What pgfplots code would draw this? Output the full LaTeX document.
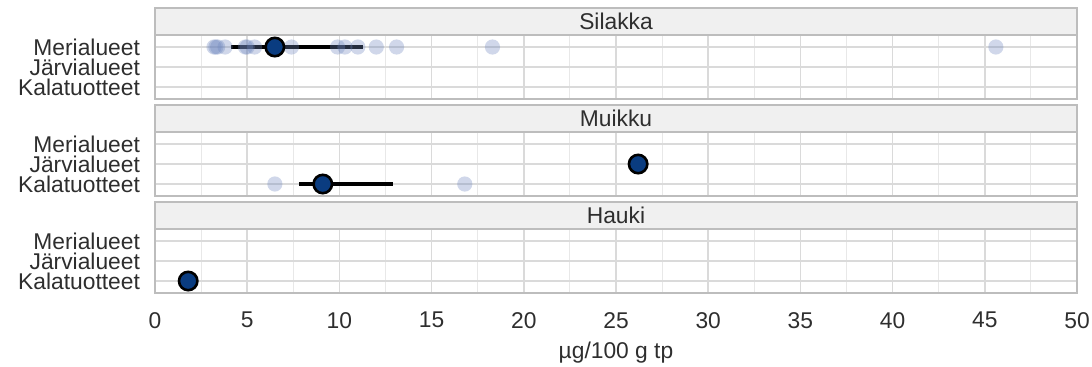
\documentclass[border=0pt]{standalone}
\usepackage{pgfplots}
\pgfplotsset{compat=1.18}
\usetikzlibrary{calc}
\usepackage{fontspec}
\setmainfont{Liberation Sans}
\definecolor{gridmaj}{HTML}{DADADA}
\definecolor{gridmin}{HTML}{E8E8E8}
\definecolor{border}{HTML}{BDBDBD}
\definecolor{stripbg}{HTML}{F0F0F0}
\definecolor{ptcol}{HTML}{6F87BE}
\definecolor{meanfill}{HTML}{0A3C80}
\definecolor{txt}{HTML}{2E2E2E}
\newcommand{\fs}{\fontsize{11.4}{13}\selectfont}
\pgfplotsset{
  panel/.style={
    scale only axis, width=461pt, height=32pt,
    xmin=0, xmax=50, ymin=0.4, ymax=3.6,
    ytick={1,2,3}, yticklabels={Kalatuotteet,Järvialueet,Merialueet},
    xtick={0,5,...,50}, minor x tick num=1,
    grid=both,
    major grid style={color=gridmaj, line width=0.75pt},
    minor grid style={color=gridmin, line width=0.5pt},
    axis line style={color=border, line width=0.75pt},
    major tick length=0pt, minor tick length=0pt,
    tick label style={font=\fs, text=txt},
    /pgf/number format/assume math mode=true,
    yticklabel style={xshift=-4pt},
    xticklabel style={yshift=-6pt},
    anchor=north west, clip=false,
  },
  light/.style={only marks, mark=*, mark size=3.8pt, color=ptcol, mark options={fill opacity=0.33, draw opacity=0}},
  ebar/.style={black, line width=1.6pt},
  mean/.style={only marks, mark=*, mark size=4.6pt, mark options={fill=meanfill, draw=black, line width=1.3pt}},
}
\begin{document}
\begin{tikzpicture}
\path[use as bounding box] (0,0) rectangle (546pt,-183pt);
% Silakka
\begin{axis}[panel, name=p1, at={(77.5pt,-17.5pt)}, xticklabels={}]
\addplot[light] coordinates {(3.2,3) (3.3,3) (3.4,3) (3.8,3) (4.9,3) (5.0,3) (5.4,3) (7.4,3) (9.9,3) (10.3,3) (11.0,3) (12.0,3) (13.1,3) (18.3,3) (45.6,3)};
\addplot[ebar] coordinates {(4.1,3) (11.3,3)};
\addplot[mean] coordinates {(6.5,3)};
\end{axis}
% Muikku
\begin{axis}[panel, name=p2, at={(77.5pt,-66pt)}, xticklabels={}]
\addplot[light] coordinates {(6.5,1) (16.8,1)};
\addplot[ebar] coordinates {(7.8,1) (12.9,1)};
\addplot[mean] coordinates {(9.1,1) (26.2,2)};
\end{axis}
% Hauki
\begin{axis}[panel, name=p3, at={(77.5pt,-114.5pt)},
  xlabel={µg/100 g tp}, xlabel style={font=\fs, text=txt, yshift=0pt}]
\addplot[mean] coordinates {(1.8,1)};
\end{axis}
\foreach \p/\t in {p1/Silakka,p2/Muikku,p3/Hauki}{
  \draw[fill=stripbg, draw=border, line width=0.75pt] (\p.north west) rectangle ([yshift=13.5pt]\p.north east);
  \node[font=\fs, text=txt, inner sep=0pt] at ($(\p.north west)!0.5!(\p.north east)+(0,6.75pt)$) {\t};
}
\end{tikzpicture}
\end{document}
